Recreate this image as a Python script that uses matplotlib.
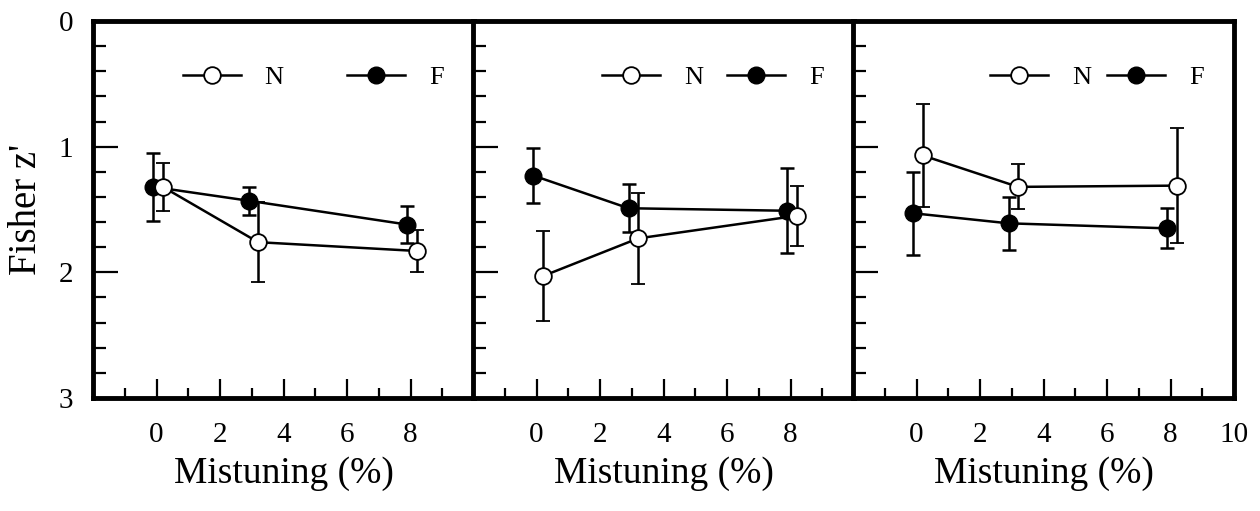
import matplotlib
matplotlib.use('Agg')
import matplotlib.pyplot as plt
from matplotlib.lines import Line2D
from matplotlib.ticker import MultipleLocator, FixedLocator

plt.rcParams['font.family'] = ['Liberation Serif', 'DejaVu Serif']

# mistuning positions (slightly offset so the two groups do not overlap)
x_N = [0.2, 3.2, 8.2]
x_F = [-0.1, 2.9, 7.9]

# Fisher z' means and error bars, one list per panel
N_vals = [[1.32, 1.76, 1.83], [2.03, 1.73, 1.55], [1.07, 1.32, 1.31]]
N_err = [[0.19, 0.32, 0.17], [0.36, 0.36, 0.24], [0.41, 0.18, 0.46]]
F_vals = [[1.32, 1.43, 1.62], [1.23, 1.49, 1.51], [1.53, 1.61, 1.65]]
F_err = [[0.27, 0.11, 0.15], [0.22, 0.19, 0.34], [0.33, 0.21, 0.16]]

xticks_shown = [[0, 2, 4, 6, 8], [0, 2, 4, 6, 8], [0, 2, 4, 6, 8, 10]]
legend_gap = [2.4, 0.9, 0.6]

fig = plt.figure(figsize=(12.6, 5.11), dpi=100)
lefts = [93, 473, 853]
W, H = 1260, 511

for i in range(3):
    ax = fig.add_axes([lefts[i] / W, (H - 398) / H, 381 / W, 377 / H])
    ax.errorbar(x_F, F_vals[i], yerr=F_err[i], color='black', lw=1.8,
                marker='o', ms=12, mfc='black', mec='black',
                elinewidth=1.8, capsize=5, capthick=1.8, zorder=3)
    ax.errorbar(x_N, N_vals[i], yerr=N_err[i], color='black', lw=1.8,
                marker='o', ms=12, mfc='white', mec='black', mew=1.3,
                elinewidth=1.8, capsize=5, capthick=1.8, zorder=4)

    ax.set_xlim(-2, 10)
    ax.set_ylim(3, 0)
    ax.xaxis.set_major_locator(FixedLocator(xticks_shown[i]))
    ax.xaxis.set_minor_locator(MultipleLocator(1))
    ax.yaxis.set_major_locator(MultipleLocator(1))
    ax.yaxis.set_minor_locator(MultipleLocator(0.2))
    ax.tick_params(which='both', direction='in', top=False, right=False,
                   width=1.6, labelsize=21)
    ax.tick_params(axis='x', pad=17)
    ax.tick_params(axis='y', pad=14)
    ax.tick_params(which='major', length=14)
    ax.tick_params(which='minor', length=7)
    ax.tick_params(axis='y', which='major', length=18)
    ax.tick_params(axis='y', which='minor', length=9)
    if i > 0:
        ax.tick_params(axis='y', labelleft=False)
    else:
        ax.set_ylabel("Fisher z'", fontsize=28, labelpad=10)
    for s in ax.spines.values():
        s.set_linewidth(3.5)
    ax.set_xlabel('Mistuning (%)', fontsize=27, labelpad=6)

    handles = [Line2D([], [], color='black', lw=1.8, marker='o', ms=12,
                      mfc='white', mec='black', mew=1.3),
               Line2D([], [], color='black', lw=1.8, marker='o', ms=12,
                      mfc='black', mec='black')]
    ax.legend(handles, ['N', 'F'], ncol=2, frameon=False, fontsize=19,
              loc='center right', bbox_to_anchor=(0.92, 0.85),
              borderpad=0, borderaxespad=0, handlelength=2.2,
              handletextpad=0.9, columnspacing=legend_gap[i])

fig.savefig('out.png', dpi=100)
